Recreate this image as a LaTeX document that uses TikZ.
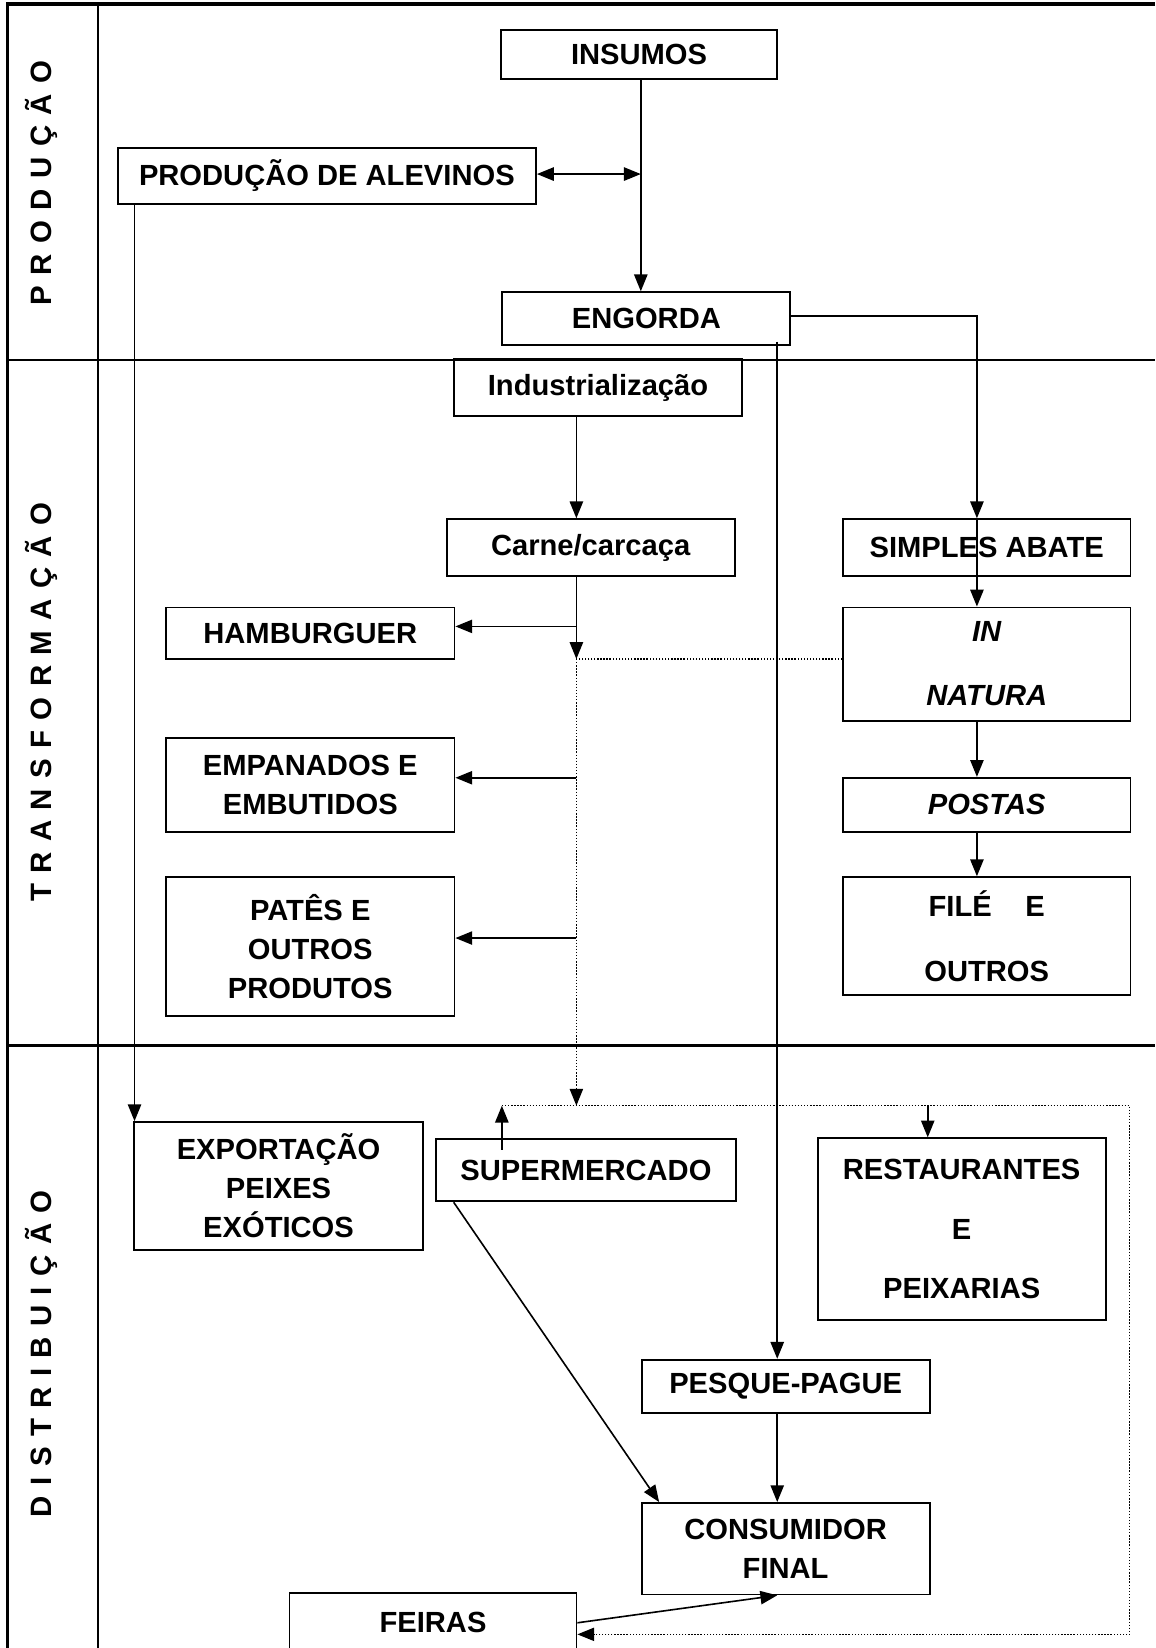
\documentclass[tikz,border=0pt]{standalone}
\usepackage{fontspec}
\setmainfont{Liberation Sans}
\usetikzlibrary{arrows.meta,calc}
\newcommand\gp{\hspace{7.4pt}}
\tikzset{
  bx/.style={draw, line width=1.3pt, inner sep=0pt, align=center,
    font=\bfseries\fontsize{20.8}{27.75}\selectfont},
  wh/.style 2 args={minimum width=#1*0.75pt, minimum height=#2*0.75pt},
  conn/.style={line width=1.15pt},
  arr/.style={-{Triangle[length=12pt,width=9.5pt]}},
  dbl/.style={{Triangle[length=12pt,width=9.5pt]}-{Triangle[length=12pt,width=9.5pt]}},
  dotl/.style={line width=0.9pt, dash pattern=on 1pt off 1.2pt},
  frame/.style={line width=2.2pt},
  rowl/.style={line width=1.8pt},
  lab/.style={rotate=90, inner sep=0pt, font=\bfseries\fontsize{21}{24}\selectfont}
}
\begin{document}
\begin{tikzpicture}[x=0.75pt, y=-0.75pt]
\useasboundingbox (0,0) rectangle (1099,1568);
% frame
\draw[frame] (7,1568) -- (7,3.8) -- (1099,3.8);
\draw[rowl] (7,342.6) -- (1099,342.6);
\draw[rowl] (7,994.5) -- (1099,994.5);
\draw[line width=1.3pt] (93.5,3.8) -- (93.5,1568);
% row labels
\node[lab] (lp) at (39,174) {P\gp R\gp O\gp D\gp U\gp Ç\gp Ã\gp O};
\node[lab] (lt) at (39,668) {T\gp R\gp A\gp N\gp S\gp F\gp O\gp R\gp M\gp A\gp Ç\gp Ã\gp O};
\node[lab] (ld) at (39,1288) {D\gp I\gp S\gp T\gp R\gp I\gp B\gp U\gp I\gp Ç\gp Ã\gp O};
% nodes
\node[bx, wh={263}{46.5}] (ins) at (608,51.75) {\raisebox{-4pt}{INSUMOS}};
\node[bx, wh={398}{53.5}] (alev) at (311,167.25) {PRODUÇÃO DE ALEVINOS};
\node[bx, wh={274}{50}] (eng) at (615,303) {ENGORDA};
\node[bx, wh={274}{53.5}] (ind) at (569,368.7) {Industrialização};
\node[bx, wh={274}{54}] (carne) at (562,521) {Carne/carcaça};
\node[bx, wh={273.5}{54}] (abate) at (938.8,521) {SIMPLES ABATE};
\node[bx, wh={274.5}{49}] (hamb) at (295.2,602.5) {HAMBURGUER};
\node[bx, wh={273.5}{107.7}] (natura) at (938.8,631.8) {\raisebox{-3pt}{\itshape IN}\\[18pt]\raisebox{-3pt}{\itshape NATURA}};
\node[bx, wh={274.5}{89.6}] (empan) at (295.2,746.8) {EMPANADOS E\\EMBUTIDOS};
\node[bx, wh={273.5}{51.6}] (postas) at (938.8,765.8) {\itshape POSTAS};
\node[bx, wh={274.5}{132}] (pates) at (295.2,900.5) {PATÊS E\\OUTROS\\PRODUTOS};
\node[bx, wh={273.5}{112.5}] (file) at (938.8,890.8) {FILÉ\hspace{24pt}E\\[18.5pt]OUTROS};
\node[bx, wh={275}{121.4}] (export) at (265,1128.3) {EXPORTAÇÃO\\PEIXES\\EXÓTICOS};
\node[bx, wh={285}{59}] (super) at (557.5,1113.5) {SUPERMERCADO};
\node[bx, wh={274}{172.6}] (rest) at (915,1169.3) {RESTAURANTES\\[15pt]E\\[15pt]PEIXARIAS};
\node[bx, wh={274}{51}] (pesque) at (747.5,1319.2) {PESQUE-PAGUE};
\node[bx, wh={274}{87}] (cons) at (747.5,1473.5) {CONSUMIDOR\\FINAL};
\node[bx, wh={273}{56}] (feiras) at (412,1544) {FEIRAS};
% coordinates
\coordinate (cA) at (609.7,165.6);
\coordinate (cE) at (128,200);
\coordinate (cD) at (929.5,300.4);
\coordinate (cC) at (739.5,325);
\coordinate (cB) at (548.4,627);
\coordinate (cH) at (548.4,596);
\coordinate (cEm) at (548.4,740);
\coordinate (cP) at (548.4,892.5);
\coordinate (cT) at (548.4,1052);
\coordinate (cL1) at (477.5,1052);
\coordinate (cL2) at (1075,1052);
\coordinate (cL3) at (1075,1555);
\coordinate (cS) at (477.5,1094);
\coordinate (cR) at (882.7,1052);
% connectors
\draw[conn,arr] (ins.south -| cA) -- (eng.north -| cA);
\draw[conn,dbl] (alev.east |- cA) -- (cA);
\draw[conn,arr] (alev.south -| cE) -- (export.north -| cE);
\draw[conn,arr] (eng.east |- cD) -- (cD) -- (abate.north -| cD);
\draw[conn,arr] (abate.north -| cD) -- (natura.north -| cD);
\draw[conn,arr] (natura.south -| cD) -- (postas.north -| cD);
\draw[conn,arr] (postas.south -| cD) -- (file.north -| cD);
\draw[conn,arr] (cC) -- (pesque.north -| cC);
\draw[conn,arr] (pesque.south -| cC) -- (cons.north -| cC);
\draw[conn,arr] (ind.south -| cB) -- (carne.north -| cB);
\draw[conn,arr] (carne.south -| cB) -- (cB);
\draw[conn,arr] (cH) -- (hamb.east |- cH);
\draw[dotl] (natura.west |- cB) -- (cB);
\draw[dotl,arr] (cB) -- (cT);
\draw[conn,arr] (cEm) -- (empan.east |- cEm);
\draw[conn,arr] (cP) -- (pates.east |- cP);
\draw[dotl,arr] (cL1) -- (cL2) -- (cL3) -- (feiras.east |- cL3);
\draw[conn,arr] (cS) -- (cL1);
\draw[conn,arr] (cR) -- (rest.north -| cR);
\draw[conn,arr] ($(super.south west)+(17.5,0)$) -- ($(cons.north west)+(17.5,0)$);
\draw[conn,arr] (feiras.east) -- (cons.south -| cC);
\end{tikzpicture}
\end{document}
